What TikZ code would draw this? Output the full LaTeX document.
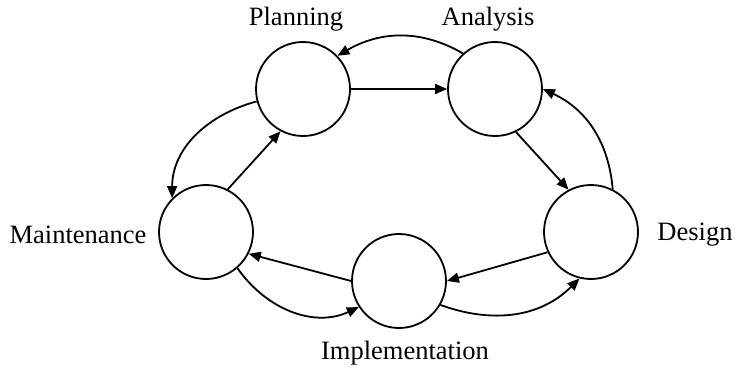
\documentclass[tikz,border=0pt]{standalone}
\usepackage{fontspec}
\setmainfont{Liberation Serif}
\usetikzlibrary{arrows.meta,positioning}

\begin{document}
\begin{tikzpicture}[x=0.5pt,y=0.5pt,line width=0.9pt,
    phase/.style={circle,draw,minimum size=47pt,inner sep=0pt},
    >={Triangle[length=6pt,width=5pt]},
    font=\fontsize{13.25}{15}\selectfont]
\useasboundingbox (0,0) rectangle (744,381);

\node[phase] (plan) at (303,292) {};
\node[phase] (anal) at (495,292) {};
\node[phase] (desi) at (591,149) {};
\node[phase] (impl) at (399,100) {};
\node[phase] (main) at (206,149) {};

\node (lplan) at (296,362) {Planning};
\node (lanal) at (488,362) {Analysis};
\node (ldesi) at (695,146) {Design};
\node (limpl) at (405,28)  {Implementation};
\node (lmain) at (78,146)  {Maintenance};

\path[->]
    (plan)      edge (anal)
                edge[out=195,in=90] (main.135)
    (anal.-64)  edge (desi.118)
    (anal.132)  edge[out=150,in=30] (plan.44)
    (desi.205)  edge (impl.0)
    (desi.63)   edge[out=95,in=-25] (anal.0)
    (impl.180)  edge (main.-27)
    (impl.-30)  edge[out=-20,in=225] (desi.-104)
    (main.63)   edge (plan.242)
    (main.-49)  edge[out=-55,in=205] (impl.213);
\end{tikzpicture}
\end{document}
